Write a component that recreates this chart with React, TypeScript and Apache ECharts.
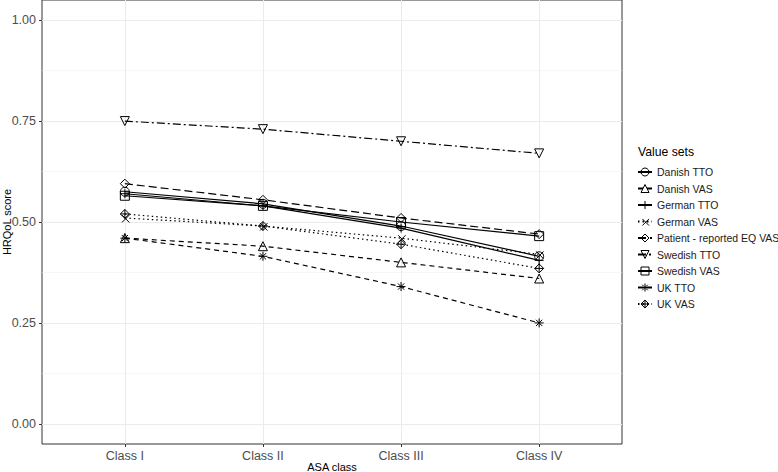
import React, { useEffect, useRef } from "react";
import * as echarts from "echarts";

const categories = ["Class I", "Class II", "Class III", "Class IV"];
const xPositions = [1, 2, 3, 4];
const yMajorTicks = [0, 0.25, 0.5, 0.75, 1];
const yMinorTicks = [0.125, 0.375, 0.625, 0.875];

const seriesNames = [
  "Danish TTO",
  "Danish VAS",
  "German TTO",
  "German VAS",
  "Patient - reported EQ VAS",
  "Swedish TTO",
  "Swedish VAS",
  "UK TTO",
  "UK VAS",
];

const danishTTO = [0.575, 0.545, 0.49, 0.415];
const danishVAS = [0.46, 0.44, 0.4, 0.36];
const germanTTO = [0.57, 0.54, 0.485, 0.405];
const germanVAS = [0.51, 0.49, 0.46, 0.42];
const patientEQVAS = [0.595, 0.555, 0.51, 0.47];
const swedishTTO = [0.75, 0.73, 0.7, 0.67];
const swedishVAS = [0.565, 0.54, 0.5, 0.465];
const ukTTO = [0.46, 0.415, 0.34, 0.25];
const ukVAS = [0.52, 0.49, 0.445, 0.385];

const seriesValues = [
  danishTTO,
  danishVAS,
  germanTTO,
  germanVAS,
  patientEQVAS,
  swedishTTO,
  swedishVAS,
  ukTTO,
  ukVAS,
];

const symbols = [
  "circle",
  "path://M5,0L10,8.66L0,8.66Z",
  "path://M5,0L5,10M0,5L10,5",
  "path://M1.5,1.5L8.5,8.5M8.5,1.5L1.5,8.5M0,0",
  "path://M5,0L10,5L5,10L0,5Z",
  "path://M0,0L10,0L5,8.66Z",
  "rect",
  "path://M5,0L5,10M0,5L10,5M1.5,1.5L8.5,8.5M8.5,1.5L1.5,8.5",
  "path://M5,0L10,5L5,10L0,5ZM5,0L5,10M0,5L10,5",
];

const dashes: any[] = [
  "solid",
  [5, 4],
  "solid",
  [1.5, 3],
  [8, 4],
  [8, 3, 2, 3],
  "solid",
  [5, 4],
  [1.5, 3],
];

const FONT = "'Liberation Sans', Arial, sans-serif";

export default function App() {
  const ref = useRef<HTMLDivElement>(null);
  useEffect(() => {
    if (!ref.current) return;
    const chart = echarts.init(ref.current, undefined, { renderer: "svg" });
    const series = seriesNames.map((name, i) => ({
      name,
      type: "line",
      xAxisIndex: 0,
      yAxisIndex: 0,
      data: seriesValues[i].map((v, j) => [xPositions[j], v]),
      symbol: symbols[i],
      symbolSize: 9,
      showSymbol: true,
      lineStyle: { color: "#000", width: 1.2, type: dashes[i] },
      itemStyle: {
        color: "rgba(0,0,0,0)",
        borderColor: "#000",
        borderWidth: 1,
      },
      emphasis: { disabled: true },
    }));
    chart.setOption({
      animation: false,
      backgroundColor: "#fff",
      textStyle: { fontFamily: FONT },
      grid: {
        left: 42,
        right: 156,
        top: 0,
        bottom: 28,
        outerBoundsMode: "none",
        containLabel: false,
        show: true,
        borderColor: "#333333",
        borderWidth: 1,
        backgroundColor: "transparent",
      },
      xAxis: {
        type: "value",
        min: 0.4,
        max: 4.6,
        name: "ASA class",
        nameLocation: "middle",
        nameMoveOverlap: false,
        nameGap: 17,
        nameTextStyle: {
          color: "#000",
          fontSize: 11,
          fontFamily: FONT,
          verticalAlign: "top",
        },
        axisLine: { show: false, onZero: false },
        axisTick: {
          show: true,
          length: 3,
          customValues: xPositions,
          lineStyle: { color: "#333" },
        },
        axisLabel: {
          customValues: xPositions,
          margin: 5,
          color: "#4d4d4d",
          fontSize: 12.5,
          fontFamily: FONT,
          formatter: (v: number) => categories[Math.round(v) - 1] ?? "",
        },
        splitLine: { show: true, lineStyle: { color: "#ebebeb", width: 1 } },
      },
      yAxis: [
        {
          type: "value",
          min: -0.05,
          max: 1.05,
          name: "HRQoL score",
          nameLocation: "middle",
          nameMoveOverlap: false,
          nameGap: 30,
          nameTextStyle: { color: "#000", fontSize: 11, fontFamily: FONT },
          axisLine: { show: false, onZero: false },
          axisTick: {
            show: true,
            length: 3,
            customValues: yMajorTicks,
            lineStyle: { color: "#333" },
          },
          axisLabel: {
            customValues: yMajorTicks,
            margin: 6,
            color: "#4d4d4d",
            fontSize: 12.5,
            fontFamily: FONT,
            formatter: (v: number) => v.toFixed(2),
          },
          splitLine: { show: true, lineStyle: { color: "#ebebeb", width: 1 } },
        },
        {
          type: "value",
          min: -0.05,
          max: 1.05,
          position: "left",
          axisLine: { show: false, onZero: false },
          axisTick: { show: false, customValues: yMinorTicks },
          axisLabel: { show: false, customValues: yMinorTicks },
          splitLine: { show: true, lineStyle: { color: "#f2f2f2", width: 0.6 } },
        },
      ],
      legend: {
        orient: "vertical",
        left: 637,
        top: 166.5,
        padding: 0,
        itemWidth: 14,
        itemHeight: 10,
        itemGap: 5.5,
        itemStyle: {
          color: "rgba(0,0,0,0)",
          borderColor: "#000",
          borderWidth: 1,
        },
        textStyle: { color: "#1a1a1a", fontSize: 10.5, fontFamily: FONT },
        data: seriesNames,
      },
      graphic: [
        {
          type: "text",
          left: 638,
          top: 145.5,
          style: {
            text: "Value sets",
            fill: "#000",
            fontSize: 12.2,
            fontFamily: FONT,
          },
        },
      ],
      series,
    });
    return () => chart.dispose();
  }, []);
  return (
    <div
      ref={ref}
      style={{ position: "fixed", left: 0, top: 0, width: 778, height: 472 }}
    />
  );
}
